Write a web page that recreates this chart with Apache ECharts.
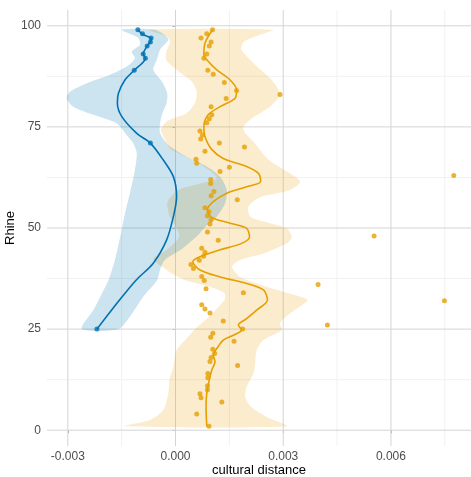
<!DOCTYPE html>
<html><head><meta charset="utf-8">
<script src="https://cdn.jsdelivr.net/npm/echarts@6/dist/echarts.min.js"></script>
<style>html,body{margin:0;padding:0;background:#fff}#c{width:471px;height:477px}</style>
</head><body><div id="c"></div>
<script>
// ---- tick values ----
const xTicks = [-0.003, 0, 0.003, 0.006];
const xMinorTicks = [-0.0015, 0.0015, 0.0045, 0.0075];
const yTicks = [0, 25, 50, 75, 100];
const yMinorTicks = [12.5, 37.5, 62.5, 87.5];

// ---- blue group: observations ----
const blueY = [99, 98, 97, 96, 95, 93, 92, 89, 71, 25];
const blueX = [-0.00105, -0.00092, -0.00068, -0.00070, -0.00079, -0.00090, -0.00084, -0.00115, -0.00070, -0.00219];

// ---- blue group: smooth fit ----
const blueFitY = [99, 97.9, 96.8, 96, 95, 93, 92, 89, 86.6, 83.3, 80.9, 77.6, 73.4, 71, 66.8, 62.7, 57.7, 52.8, 47, 41.3, 37.1, 32.2, 25];
const blueFitX = [-0.00105, -0.00092, -0.00068, -0.00070, -0.00079, -0.00090, -0.00084, -0.00115, -0.00141, -0.00159, -0.00162, -0.00150, -0.00108, -0.00070, -0.00034, -0.00006, 0.00003, -0.00006, -0.00025, -0.00062, -0.00110, -0.00156, -0.00219];

// ---- blue group: confidence band ----
const blueLowY = [99, 97, 95.3, 93.6, 92, 89.9, 87.9, 85.8, 83.7, 82.1, 80, 78, 75.9, 73, 71, 68.5, 64.4, 58.6, 53.6, 49.5, 42, 37, 34.7, 29.7, 25];
const blueLowX = [-0.00150, -0.00104, -0.00099, -0.00122, -0.00113, -0.00136, -0.00182, -0.00247, -0.00294, -0.00303, -0.00285, -0.00229, -0.00164, -0.00136, -0.00118, -0.00108, -0.00113, -0.00127, -0.00141, -0.00150, -0.00169, -0.00187, -0.00200, -0.00229, -0.00261];
const blueUpY = [99, 96.7, 94.1, 91.6, 89.1, 86.2, 83.3, 80.9, 78, 75.9, 73.4, 70.5, 67.6, 65.2, 62.7, 59.4, 56.1, 52.8, 50.5, 48, 44.6, 42.1, 40, 37, 33, 29, 25];
const blueUpX = [-0.00057, -0.00020, -0.00043, -0.00052, -0.00062, -0.00038, -0.00023, -0.00025, -0.00038, -0.00043, -0.00043, -0.00020, 0.00031, 0.00087, 0.00124, 0.00143, 0.00138, 0.00115, 0.00085, 0.00060, 0.00015, -0.00030, -0.00042, -0.00052, -0.00090, -0.00120, -0.00159];

// ---- orange group: observations ----
const orangeY = [99, 98, 97, 96, 95, 93, 92, 89, 88, 86, 84, 83, 82, 80, 78, 77, 76, 74, 73, 72, 71, 70, 69, 67, 66, 65, 64, 63, 62, 61, 59, 58, 57, 55, 54, 53, 52, 51, 49, 48, 47, 45, 44, 43, 42, 41, 40, 38, 37, 36, 35, 34, 32, 31, 30, 29, 27, 26, 25, 24, 23, 22, 20, 19, 18, 17, 16, 14, 13, 11, 10, 9, 8, 7, 4, 1];
const orangeX = [0.00103, 0.00087, 0.00071, 0.00099, 0.00094, 0.00087, 0.00079, 0.00090, 0.00105, 0.00136, 0.00170, 0.00291, 0.00141, 0.00099, 0.00101, 0.00094, 0.00087, 0.00068, 0.00075, 0.00070, 0.00122, 0.00192, 0.00082, 0.00057, 0.00059, 0.00150, 0.00124, 0.00775, 0.00098, 0.00098, 0.00107, 0.00099, 0.00172, 0.00082, 0.00093, 0.00089, 0.00099, 0.00096, 0.00089, 0.00553, 0.00119, 0.00073, 0.00082, 0.00078, 0.00066, 0.00043, 0.00050, 0.00073, 0.00080, 0.00397, 0.00085, 0.00189, 0.00749, 0.00073, 0.00082, 0.00096, 0.00133, 0.00423, 0.00187, 0.00104, 0.00098, 0.00163, 0.00104, 0.00109, 0.00099, 0.00096, 0.00173, 0.00090, 0.00090, 0.00089, 0.00089, 0.00068, 0.00071, 0.00129, 0.00059, 0.00093];

// ---- orange group: smooth fit ----
const orangeFitY = [99, 95.7, 92.8, 91.6, 89.1, 86.6, 84.2, 82.1, 80, 78, 75.1, 72.6, 69.5, 67.2, 65.2, 63.5, 61.5, 60.2, 58.6, 56.5, 54.5, 52.6, 51.2, 49.9, 47.8, 46.2, 44.6, 42.9, 41.7, 39.6, 37.9, 36.3, 34.7, 32.2, 29.7, 27.6, 26, 24.8, 23.5, 22.3, 20.2, 18.6, 16.9, 14.9, 12.4, 9.1, 5.8, 1];
const orangeFitX = [0.00103, 0.00082, 0.00079, 0.00087, 0.00115, 0.00152, 0.00170, 0.00166, 0.00124, 0.00091, 0.00079, 0.00082, 0.00100, 0.00133, 0.00198, 0.00231, 0.00237, 0.00198, 0.00143, 0.00105, 0.00089, 0.00101, 0.00152, 0.00198, 0.00206, 0.00184, 0.00124, 0.00068, 0.00048, 0.00068, 0.00124, 0.00198, 0.00245, 0.00256, 0.00226, 0.00198, 0.00175, 0.00184, 0.00161, 0.00133, 0.00115, 0.00105, 0.00110, 0.00101, 0.00094, 0.00087, 0.00085, 0.00087];

// ---- orange group: confidence band ----
const orangeLowY = [99, 97.4, 96.1, 93.6, 91.6, 89.1, 86.2, 83.7, 80.9, 78.4, 76.5, 74.3, 71.8, 69.5, 66.8, 64.2, 62.3, 61, 59.5, 56.5, 53, 50.5, 47.8, 44.6, 42.3, 40, 38.5, 37, 35.5, 34, 32.5, 31, 29, 27, 25.5, 22.7, 19.8, 15.7, 12.4, 9.1, 5, 2.5, 1];
const orangeLowX = [-0.00076, -0.00025, -0.00015, -0.00025, -0.00026, 0.00003, 0.00045, 0.00059, 0.00054, 0.00031, -0.00022, -0.00040, -0.00029, -0.00013, 0.00050, 0.00095, 0.00115, 0.00070, 0.00010, -0.00022, -0.00017, 0.00000, 0.00010, -0.00025, -0.00062, -0.00030, -0.00005, 0.00030, 0.00095, 0.00135, 0.00138, 0.00125, 0.00105, 0.00080, 0.00060, 0.00031, 0.00003, -0.00006, -0.00017, -0.00020, -0.00034, -0.00071, -0.00140];
const orangeUpY = [99, 97.6, 96, 94, 90, 86.6, 83, 80, 77.1, 75, 73.4, 71.8, 69.3, 66.8, 64.5, 61.5, 59.4, 57.6, 55.3, 52.8, 51.2, 49.9, 47.8, 46.2, 43.7, 42.1, 40.4, 37.9, 35.5, 33.5, 32.2, 30.5, 28.9, 26.4, 24.8, 22.3, 19.8, 15.7, 14, 10.7, 8.2, 5.8, 3.3, 1];
const orangeUpX = [0.00272, 0.00230, 0.00189, 0.00184, 0.00226, 0.00268, 0.00291, 0.00263, 0.00212, 0.00189, 0.00194, 0.00212, 0.00235, 0.00260, 0.00300, 0.00347, 0.00319, 0.00235, 0.00203, 0.00208, 0.00263, 0.00310, 0.00324, 0.00310, 0.00245, 0.00180, 0.00157, 0.00180, 0.00254, 0.00330, 0.00368, 0.00345, 0.00319, 0.00291, 0.00296, 0.00245, 0.00226, 0.00221, 0.00217, 0.00198, 0.00194, 0.00210, 0.00254, 0.00310];

const X_MIN = -0.00358, X_MAX = 0.00823, Y_MIN = -3.9, Y_MAX = 103.9;
const BLUE = '#0072B2', ORANGE = '#E69F00';
const FONT = 'Liberation Sans, Arial, sans-serif';

function zip(xs, ys) { return xs.map((x, i) => [x, ys[i]]); }

function gridSeries(values, vertical, color, z) {
  return {
    type: 'custom', silent: true, z: z,
    data: values.map(v => vertical ? [v, 0] : [0, v]),
    encode: { x: 0, y: 1 },
    renderItem: function (params, api) {
      let a, b;
      if (vertical) { a = api.coord([api.value(0), Y_MIN]); b = api.coord([api.value(0), Y_MAX]); }
      else { a = api.coord([X_MIN, api.value(1)]); b = api.coord([X_MAX, api.value(1)]); }
      return { type: 'line', shape: { x1: a[0], y1: a[1], x2: b[0], y2: b[1] }, style: { stroke: color, lineWidth: 1 } };
    }
  };
}

function ribbon(lowY, lowX, upY, upX, fill) {
  return {
    type: 'custom', silent: true, z: 2,
    data: [[0, 50]],
    encode: { x: 0, y: 1 },
    renderItem: function (params, api) {
      const pts = [];
      for (let i = 0; i < lowY.length; i++) pts.push(api.coord([lowX[i], lowY[i]]));
      for (let i = upY.length - 1; i >= 0; i--) pts.push(api.coord([upX[i], upY[i]]));
      return { type: 'polygon', shape: { points: pts, smooth: 0.25 }, style: { fill: fill } };
    }
  };
}

const chart = echarts.init(document.getElementById('c'), null, { renderer: 'canvas' });
chart.setOption({
  animation: false,
  backgroundColor: '#ffffff',
  textStyle: { fontFamily: FONT },
  grid: { left: 47, right: 0, top: 10, bottom: 31, containLabel: false, outerBoundsMode: 'none' },
  xAxis: {
    type: 'value', min: X_MIN, max: X_MAX,
    name: 'cultural distance', nameLocation: 'middle', nameGap: 18, nameMoveOverlap: false,
    nameTextStyle: { color: '#000', fontSize: 13, fontFamily: FONT },
    axisLine: { show: false },
    axisTick: { show: true, customValues: xTicks, length: 3, lineStyle: { color: '#aaaaaa' } },
    axisLabel: { customValues: xTicks, formatter: v => v.toFixed(3), color: '#4d4d4d', fontSize: 12, margin: 5, fontFamily: FONT },
    splitLine: { show: false }
  },
  yAxis: {
    type: 'value', min: Y_MIN, max: Y_MAX,
    name: 'Rhine', nameLocation: 'middle', nameRotate: 90, nameGap: 30, nameMoveOverlap: false,
    nameTextStyle: { color: '#000', fontSize: 13, fontFamily: FONT },
    axisLine: { show: false },
    axisTick: { show: true, customValues: yTicks, length: 3, lineStyle: { color: '#aaaaaa' } },
    axisLabel: { customValues: yTicks, formatter: v => String(v), color: '#4d4d4d', fontSize: 12, margin: 6, fontFamily: FONT },
    splitLine: { show: false }
  },
  series: [
    gridSeries(xMinorTicks, true, '#f1f1f1', 0),
    gridSeries(yMinorTicks, false, '#f1f1f1', 0),
    gridSeries(xTicks, true, '#d4d4d4', 1),
    gridSeries(yTicks, false, '#d4d4d4', 1),
    ribbon(orangeLowY, orangeLowX, orangeUpY, orangeUpX, 'rgba(230,159,0,0.2)'),
    ribbon(blueLowY, blueLowX, blueUpY, blueUpX, 'rgba(0,114,178,0.2)'),
    { type: 'line', data: zip(blueFitX, blueFitY), showSymbol: false, smooth: 0.3, z: 3, silent: true,
      lineStyle: { color: BLUE, width: 1.6 } },
    { type: 'line', data: zip(orangeFitX, orangeFitY), showSymbol: false, smooth: 0.3, z: 3, silent: true,
      lineStyle: { color: ORANGE, width: 1.6 } },
    { type: 'scatter', data: zip(blueX, blueY), symbol: 'circle', symbolSize: 5, z: 4, silent: true,
      itemStyle: { color: BLUE } },
    { type: 'scatter', data: zip(orangeX, orangeY), symbol: 'circle', symbolSize: 5, z: 4, silent: true,
      itemStyle: { color: ORANGE } }
  ]
});
</script>
</body></html>
